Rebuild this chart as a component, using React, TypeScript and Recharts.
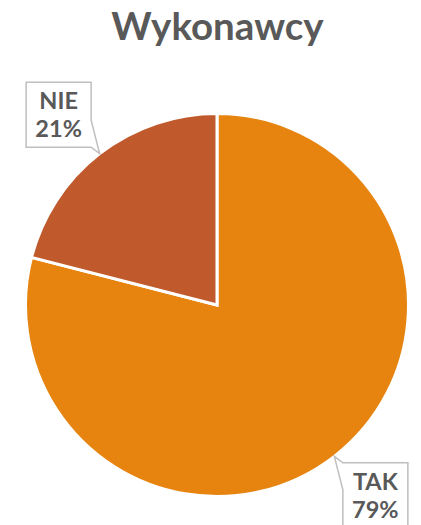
import { PieChart, Pie, Cell } from "recharts";

const categories = ["TAK", "NIE"];
const values = [79, 21];
const colors = ["#E6840F", "#C05A2C"];

const data = categories.map((name, i) => ({ name, value: values[i] }));

const RAD = Math.PI / 180;
const TEXT = "#595959";

function CalloutLabel(props: any) {
  const { cx, cy, midAngle, outerRadius, name, percent } = props;
  const cos = Math.cos(-midAngle * RAD);
  const sin = Math.sin(-midAngle * RAD);
  // tip sits on the pie edge, box placed diagonally outside it
  const tx = cx + outerRadius * cos;
  const ty = cy + outerRadius * sin;
  const bx = tx + Math.sign(cos) * 41;
  const by = ty + Math.sign(sin) * 39;
  const w = 65;
  const h = 65;
  const x0 = bx - w / 2;
  const x1 = bx + w / 2;
  const y0 = by - h / 2;
  const y1 = by + h / 2;
  const right = tx > bx;
  const below = ty > by;
  const wedge = 27;

  let pts: number[][];
  if (right && below) {
    pts = [[x0, y0], [x1, y0], [x1, y1 - wedge], [tx, ty], [x1, y1], [x0, y1]];
  } else if (right && !below) {
    pts = [[x0, y0], [x1, y0], [tx, ty], [x1, y0 + wedge], [x1, y1], [x0, y1]];
  } else if (!right && below) {
    pts = [[x0, y0], [x1, y0], [x1, y1], [x0, y1], [tx, ty], [x0, y1 - wedge]];
  } else {
    pts = [[x0, y0], [x1, y0], [x1, y1], [x0, y1], [x0, y0 + wedge], [tx, ty]];
  }
  const d = "M" + pts.map((p) => p.join(",")).join("L") + "Z";

  return (
    <g>
      <path d={d} fill="#fff" stroke="#BFBFBF" strokeWidth={1.5} />
      <text
        x={bx}
        textAnchor="middle"
        fill={TEXT}
        fontFamily="Lato"
        fontWeight="bold"
        fontSize={23.5}
      >
        <tspan x={bx} y={by - 5.5}>{name}</tspan>
        <tspan x={bx} y={by + 22.5}>{Math.round(percent * 100)}%</tspan>
      </text>
    </g>
  );
}

export default function App() {
  return (
    <div style={{ position: "absolute", left: 0, top: 0, width: 421, height: 525, background: "#fff" }}>
      <div
        style={{
          position: "absolute",
          left: 0,
          top: 0,
          width: 435,
          textAlign: "center",
          fontFamily: "Lato",
          fontWeight: "bold",
          fontSize: 38.5,
          lineHeight: "50px",
          color: TEXT,
        }}
      >
        Wykonawcy
      </div>
      <PieChart width={421} height={525} margin={{ top: 0, right: 0, bottom: 0, left: 0 }}>
        <Pie
          data={data}
          dataKey="value"
          nameKey="name"
          cx={217}
          cy={305}
          outerRadius={191.5}
          startAngle={90}
          endAngle={-270}
          stroke="#fff"
          strokeWidth={3}
          label={<CalloutLabel />}
          labelLine={false}
          isAnimationActive={false}
        >
          {data.map((entry, i) => (
            <Cell key={entry.name} fill={colors[i]} />
          ))}
        </Pie>
      </PieChart>
    </div>
  );
}
